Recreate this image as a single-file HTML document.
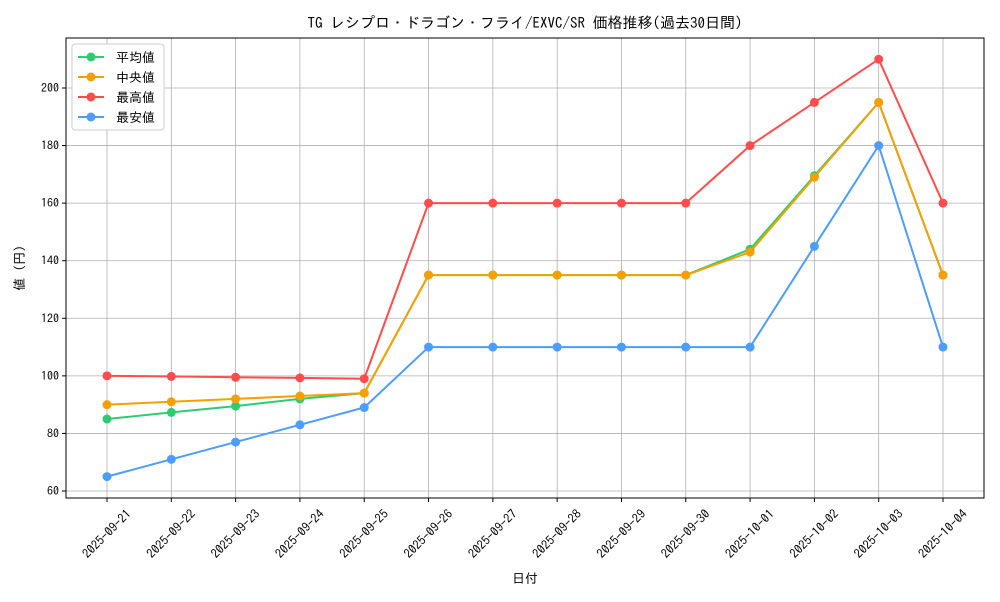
<!DOCTYPE html>
<html><head><meta charset="utf-8"><style>
body{margin:0;background:#fff;font-family:"IPAGothic","Noto Sans CJK JP",sans-serif;}
svg text{font-family:"IPAGothic","Noto Sans CJK JP",sans-serif;fill:#000;}
</style></head><body>
<svg id="chart" width="1000" height="600" xmlns="http://www.w3.org/2000/svg"></svg>
<script>
const categories=["2025-09-21","2025-09-22","2025-09-23","2025-09-24","2025-09-25","2025-09-26","2025-09-27","2025-09-28","2025-09-29","2025-09-30","2025-10-01","2025-10-02","2025-10-03","2025-10-04"];
const meanValues=[85,87.3,89.5,92,94,135,135,135,135,135,144,169.5,195,135];
const medianValues=[90,91,92,93,94,135,135,135,135,135,143,169,195,135];
const maxValues=[100,99.8,99.5,99.3,99,160,160,160,160,160,180,195,210,160];
const minValues=[65,71,77,83,89,110,110,110,110,110,110,145,180,110];
const yTicks=[60,80,100,120,140,160,180,200];
const seriesNames=["平均値","中央値","最高値","最安値"];
const NS="http://www.w3.org/2000/svg";
const svg=document.getElementById('chart');
const L=66,R=984,T=38,B=498;
function x(i){return 107+i*(943-107)/(categories.length-1);}
function y(v){return 491-(v-60)*(491-88)/140;}
function el(tag,attrs,parent){const e=document.createElementNS(NS,tag);for(const k in attrs)e.setAttribute(k,attrs[k]);(parent||svg).appendChild(e);return e;}
categories.forEach((c,i)=>{
 const g=el('line',{x1:x(i),x2:x(i),y1:T,y2:B,stroke:'#b0b0b0','stroke-width':0.8});
 
 
 el('line',{x1:x(i),x2:x(i),y1:B,y2:B+4,stroke:'#000'});
 const cx=x(i),cy=B+36;
 const t=el('text',{x:cx,y:cy+4,'font-size':12.5,'text-anchor':'middle',transform:`rotate(-45 ${cx} ${cy})`});
 t.textContent=c;
 
 
});
yTicks.forEach(v=>{
 const g=el('line',{x1:L,x2:R,y1:y(v),y2:y(v),stroke:'#b0b0b0','stroke-width':0.8});
 
 
 el('line',{x1:L-4,x2:L,y1:y(v),y2:y(v),stroke:'#000'});
 const t=el('text',{x:L-7,y:y(v)+4,'font-size':12,'text-anchor':'end'});
 t.textContent=v;
 
 
});
const frame=el('rect',{x:L,y:T,width:R-L,height:B-T,fill:'none',stroke:'#000','stroke-width':1});


const series=[[meanValues,'#2ecc71'],[medianValues,'#f5a000'],[maxValues,'#ff4d4d'],[minValues,'#4d9cff']];
series.forEach(([vals,col],si)=>{
 const g=el('g',{});
 
 
 el('polyline',{points:vals.map((v,i)=>x(i)+','+y(v)).join(' '),fill:'none',stroke:col,'stroke-width':2},g);
 vals.forEach((v,i)=>{
  const c=el('circle',{cx:x(i),cy:y(v),r:4.5,fill:col},g);
  
  
 });
});
const lg=el('g',{});


el('rect',{x:72,y:44,width:92,height:86,rx:3,fill:'#fff',stroke:'#ccc'},lg);
seriesNames.forEach((n,i)=>{
 const yy=57+i*20;
 el('line',{x1:78,x2:104,y1:yy,y2:yy,stroke:series[i][1],'stroke-width':2},lg);
 el('circle',{cx:91,cy:yy,r:4.5,fill:series[i][1]},lg);
 const t=el('text',{x:116,y:yy+5,'font-size':13},lg);
 t.textContent=n;
 
 
});
const title=el('text',{x:(L+R)/2,y:28,'font-size':15,'text-anchor':'middle'});
title.textContent="TG レシプロ・ドラゴン・フライ/EXVC/SR 価格推移(過去30日間)";


const xt=el('text',{x:(L+R)/2,y:583,'font-size':13,'text-anchor':'middle'});
xt.textContent="日付";


const yt=el('text',{x:24,y:(T+B)/2,'font-size':13,'text-anchor':'middle',transform:`rotate(-90 24 ${(T+B)/2})`});
yt.textContent="値 (円)";


</script>
</body></html>
